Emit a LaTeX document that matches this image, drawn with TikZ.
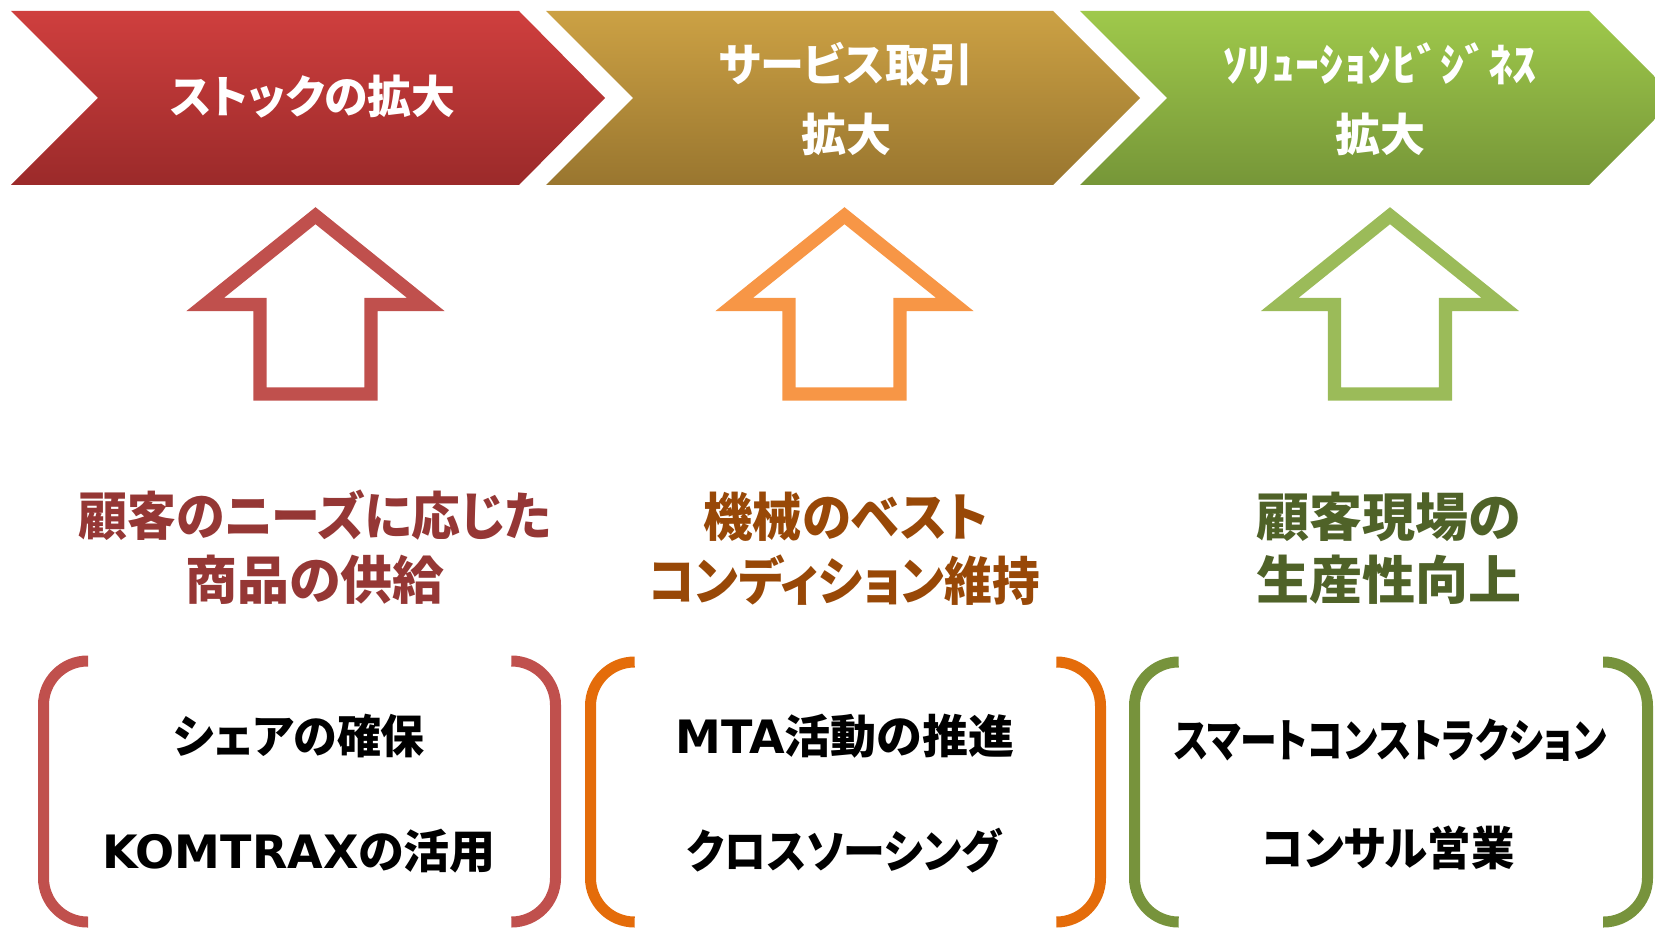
\documentclass[tikz,border=0pt]{standalone}
\usepackage{fontspec}
\usepackage{graphicx}
\newfontfamily\jp{Noto Sans CJK JP}[RawFeature=+palt]
\newfontfamily\jpf{Noto Sans CJK JP}
\newfontfamily\lat{DejaVu Sans}
\definecolor{c1t}{RGB}{207,63,62}
\definecolor{c1b}{RGB}{155,42,42}
\definecolor{c2t}{RGB}{204,161,68}
\definecolor{c2b}{RGB}{153,118,47}
\definecolor{c3t}{RGB}{159,201,75}
\definecolor{c3b}{RGB}{118,150,56}
\definecolor{aR}{RGB}{192,80,77}
\definecolor{aO}{RGB}{247,150,70}
\definecolor{aG}{RGB}{155,187,89}
\definecolor{hR}{RGB}{149,55,53}
\definecolor{hO}{RGB}{152,72,7}
\definecolor{hG}{RGB}{79,98,40}
\definecolor{bR}{RGB}{192,80,77}
\definecolor{bO}{RGB}{228,108,10}
\definecolor{bG}{RGB}{119,147,60}
\tikzset{
  chevtext/.style={text=white, font=\jp\bfseries\fontsize{45}{71}\selectfont, inner sep=0pt},
  headtext/.style={font=\jp\bfseries\fontsize{52}{65}\selectfont, inner sep=0pt},
  bodytext/.style={text=black, font=\jp\bfseries\fontsize{46}{50}\selectfont, inner sep=0pt},
  uparrowline/.style={line width=13.3pt, line join=miter, miter limit=10},
  bracketline/.style={line width=11pt, rounded corners=44pt},
}
\newcommand\sx[2]{\scalebox{#1}[1]{#2}}
\newcommand\myuparrow[2]{\draw[uparrowline, draw=#2, shift={(#1,0)}] (0,215.7) -- (110.2,304.4) -- (55.5,304.4) -- (55.5,394) -- (-55.5,394) -- (-55.5,304.4) -- (-110.2,304.4) -- cycle;}
\begin{document}
\begin{tikzpicture}[x=1pt,y=-1pt]
\useasboundingbox (0,0) rectangle (1655,928);
\clip (0,0) rectangle (1655,928);
% chevrons
\path[top color=c1t, bottom color=c1b] (11,11) -- (519,11) -- (605,98) -- (519,185) -- (11,185) -- (98,98) -- cycle;
\path[top color=c2t, bottom color=c2b] (546,11) -- (1053,11) -- (1140,98) -- (1053,185) -- (546,185) -- (633,98) -- cycle;
\path[top color=c3t, bottom color=c3b] (1080,11) -- (1589,11) -- (1676,98) -- (1589,185) -- (1080,185) -- (1167,98) -- cycle;
\node[chevtext] (t1) at (313,97) {\sx{0.975}{ストックの拡大}};
\node[chevtext] (t2a) at (846,64) {\sx{0.98}{サービス取引}};
\node[chevtext] (t2b) at (846,134) {拡大};
\node[chevtext, font=\jpf\bfseries\fontsize{45}{71}\selectfont] (t3a) at (1380,64) {\sx{1.07}{ｿﾘｭｰｼｮﾝﾋﾞｼﾞﾈｽ}};
\node[chevtext] (t3b) at (1380,134) {拡大};
% arrows
\myuparrow{315.5}{aR}
\myuparrow{844.5}{aO}
\myuparrow{1390}{aG}
% headings
\node[headtext, text=hR] (h1a) at (315,515) {\sx{0.94}{顧客のニーズに応じた}};
\node[headtext, text=hR] (h1b) at (315,580) {商品の供給};
\node[headtext, text=hO] (h2a) at (846,517) {\sx{0.95}{機械のベスト}};
\node[headtext, text=hO] (h2b) at (844,580) {\sx{0.915}{コンディション維持}};
\node[headtext, text=hG] (h3a) at (1389,517) {\sx{1.02}{顧客現場の}};
\node[headtext, text=hG] (h3b) at (1389,580) {\sx{1.02}{生産性向上}};
% brackets
\draw[bracketline, bR] (88,661) -- (43.5,661) -- (43.5,922) -- (88,922);
\draw[bracketline, bR] (512,661) -- (555.5,661) -- (555.5,922) -- (512,922);
\draw[bracketline, bO] (634,662) -- (590.5,662) -- (590.5,922) -- (634,922);
\draw[bracketline, bO] (1057,662) -- (1100.5,662) -- (1100.5,922) -- (1057,922);
\draw[bracketline, bG] (1178,662) -- (1134.5,662) -- (1134.5,922) -- (1178,922);
\draw[bracketline, bG] (1603,662) -- (1647.5,662) -- (1647.5,922) -- (1603,922);
% body texts
\node[bodytext] (b1a) at (299,736) {\sx{0.955}{シェアの確保}};
\node[bodytext] (b1b) at (299,851) {{\lat\bfseries KOMTRAX}の活用};
\node[bodytext] (b2a) at (845,736) {{\lat\bfseries MTA}活動の推進};
\node[bodytext] (b2b) at (844,851) {\sx{0.91}{クロスソーシング}};
\node[bodytext] (b3a) at (1390,740) {\sx{0.8}{スマートコンストラクション}};
\node[bodytext] (b3b) at (1388,848) {\sx{0.944}{コンサル営業}};
\end{tikzpicture}
\end{document}
